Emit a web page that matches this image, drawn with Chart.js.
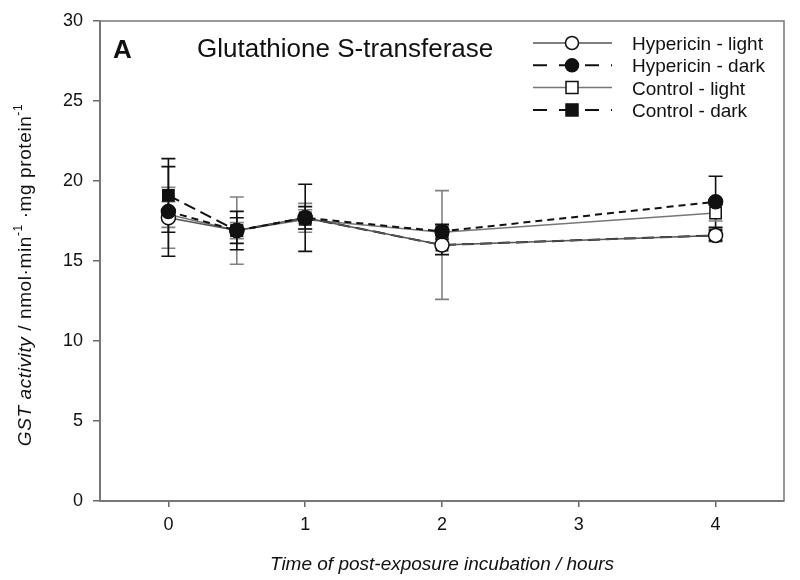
<!DOCTYPE html>
<html>
<head>
<meta charset="utf-8">
<script src="https://cdn.jsdelivr.net/npm/chart.js@4.4.1/dist/chart.umd.min.js"></script>
<style>
  body { margin: 0; background: #fff; }
  canvas { display: block; }
</style>
</head>
<body>
<canvas id="gstChart" width="800" height="580" style="width:800px;height:580px"></canvas>
<script>
// hours after exposure
const hours = [0, 0.5, 1, 2, 4];

// GST activity, means and error (SD)
const hypLight = [17.7, 16.9, 17.7, 16.0, 16.6];
const hypLightErr = [1.9, 2.1, 0.9, 3.4, 0.4];
const hypDark = [18.1, 16.9, 17.7, 16.85, 18.7];
const hypDarkErr = [2.8, 1.2, 2.1, 0.45, 1.6];
const ctrlLight = [17.9, 16.9, 17.6, 16.8, 18.0];
const ctrlLightErr = [0.8, 0.5, 0.6, 0.4, 0.5];
const ctrlDark = [19.1, 16.9, 17.7, 16.0, 16.6];
const ctrlDarkErr = [2.3, 0.8, 0.7, 0.6, 0.3];

const seriesNames = ['Hypericin - light', 'Hypericin - dark', 'Control - light', 'Control - dark'];
const xTickValues = [0, 1, 2, 3, 4];
const yTickValues = [0, 5, 10, 15, 20, 25, 30];

const FONT = '"Liberation Sans", Arial, sans-serif';

function pts(vals) {
    return vals.map((v, i) => ({x: hours[i], y: v}));
}

const styles = [
    {line: '#555', width: 1.5, dash: [], point: 'circle', r: 7, fill: '#fff', err: '#808080'},
    {line: '#111', width: 2, dash: [7, 5], point: 'circle', r: 7, fill: '#111', err: '#111'},
    {line: '#777', width: 1.5, dash: [], point: 'rect', r: 8, fill: '#fff', err: '#808080'},
    {line: '#111', width: 2, dash: [12, 6], point: 'rect', r: 8, fill: '#111', err: '#111'}
];
const means = [hypLight, hypDark, ctrlLight, ctrlDark];
const errs = [hypLightErr, hypDarkErr, ctrlLightErr, ctrlDarkErr];
// lowest order is drawn last, circles sit on top of squares
const drawOrder = [1, 0, 3, 2];

const errorBars = {
    id: 'errorBars',
    beforeDatasetsDraw(chart) {
        const ctx = chart.ctx;
        const xs = chart.scales.x, ys = chart.scales.y;
        ctx.save();
        for (let s = 0; s < means.length; s++) {
            ctx.strokeStyle = styles[s].err;
            ctx.lineWidth = 1.6;
            for (let j = 0; j < hours.length; j++) {
                const px = xs.getPixelForValue(hours[j]);
                const top = ys.getPixelForValue(means[s][j] + errs[s][j]);
                const bot = ys.getPixelForValue(means[s][j] - errs[s][j]);
                ctx.beginPath();
                ctx.moveTo(px, top); ctx.lineTo(px, bot);
                ctx.moveTo(px - 7, top); ctx.lineTo(px + 7, top);
                ctx.moveTo(px - 7, bot); ctx.lineTo(px + 7, bot);
                ctx.stroke();
            }
        }
        ctx.restore();
    }
};

const decorations = {
    id: 'decorations',
    afterDraw(chart) {
        const ctx = chart.ctx;
        const a = chart.chartArea;
        ctx.save();
        // frame top and right
        ctx.strokeStyle = '#777';
        ctx.lineWidth = 1.5;
        ctx.beginPath();
        ctx.moveTo(a.left, a.top); ctx.lineTo(a.right, a.top); ctx.lineTo(a.right, a.bottom);
        ctx.stroke();

        // panel label and title
        ctx.fillStyle = '#111';
        ctx.textBaseline = 'alphabetic';
        ctx.font = 'bold 26px ' + FONT;
        ctx.fillText('A', 113, 58);
        ctx.font = '26px ' + FONT;
        ctx.fillText('Glutathione S-transferase', 197, 57);

        // legend
        ctx.font = '19px ' + FONT;
        for (let i = 0; i < seriesNames.length; i++) {
            const st = styles[i];
            const y = 43 + i * 22.3;
            ctx.strokeStyle = st.line;
            ctx.lineWidth = st.width;
            ctx.setLineDash(st.dash.length ? [14, 12] : []);
            ctx.beginPath();
            ctx.moveTo(533, y); ctx.lineTo(612, y);
            ctx.stroke();
            ctx.setLineDash([]);
            ctx.fillStyle = st.fill;
            ctx.strokeStyle = '#111';
            ctx.lineWidth = 1.5;
            ctx.beginPath();
            if (st.point === 'circle') {
                ctx.arc(572, y, 6.5, 0, Math.PI * 2);
            } else {
                ctx.rect(566, y - 6, 12, 12);
            }
            ctx.fill(); ctx.stroke();
            ctx.fillStyle = '#111';
            ctx.fillText(seriesNames[i], 632, y + 7);
        }

        // x axis title
        ctx.font = 'italic 19px ' + FONT;
        ctx.textAlign = 'center';
        ctx.fillText('Time of post-exposure incubation / hours', (a.left + a.right) / 2, 570);

        // y axis title with superscripts
        const parts = [
            ['GST activity', 'italic 19px ' + FONT, 0],
            [' / nmol·min', '19px ' + FONT, 0],
            ['-1', '12px ' + FONT, -9],
            [' ·mg protein', '19px ' + FONT, 0],
            ['-1', '12px ' + FONT, -9]
        ];
        ctx.textAlign = 'left';
        ctx.letterSpacing = '0.6px';
        let total = 0;
        parts.forEach(p => { ctx.font = p[1]; total += ctx.measureText(p[0]).width; });
        ctx.translate(31, 275);
        ctx.rotate(-Math.PI / 2);
        let x = -total / 2;
        parts.forEach(p => {
            ctx.font = p[1];
            ctx.fillText(p[0], x, p[2]);
            x += ctx.measureText(p[0]).width;
        });
        ctx.restore();
    }
};

const datasets = means.map((m, i) => ({
    label: seriesNames[i],
    data: pts(m),
    borderColor: styles[i].line,
    borderWidth: styles[i].width,
    borderDash: styles[i].dash,
    pointStyle: styles[i].point,
    pointRadius: styles[i].r,
    pointBackgroundColor: styles[i].fill,
    pointBorderColor: '#111',
    pointBorderWidth: 1.5,
    tension: 0,
    fill: false,
    order: drawOrder[i]
}));

new Chart(document.getElementById('gstChart'), {
    type: 'line',
    data: {datasets: datasets},
    options: {
        responsive: false,
        animation: false,
        layout: {padding: {top: 21, right: 16, left: 0, bottom: 0}},
        plugins: {legend: {display: false}, tooltip: {enabled: false}},
        scales: {
            x: {
                type: 'linear',
                min: -0.5,
                max: 4.5,
                afterBuildTicks: s => { s.ticks = xTickValues.map(v => ({value: v})); },
                ticks: {font: {family: FONT, size: 18}, color: '#111', padding: 7},
                grid: {drawOnChartArea: false, tickLength: 6, color: '#666', lineWidth: 1.5},
                border: {color: '#777', width: 2},
                afterFit: s => { s.height = 79; }
            },
            y: {
                min: 0,
                max: 30,
                afterBuildTicks: s => { s.ticks = yTickValues.map(v => ({value: v})); },
                ticks: {font: {family: FONT, size: 18}, color: '#111', padding: 10},
                grid: {drawOnChartArea: false, tickLength: 7, color: '#666', lineWidth: 1.5},
                border: {color: '#777', width: 2},
                afterFit: s => { s.width = 100; }
            }
        }
    },
    plugins: [errorBars, decorations]
});
</script>
</body>
</html>
